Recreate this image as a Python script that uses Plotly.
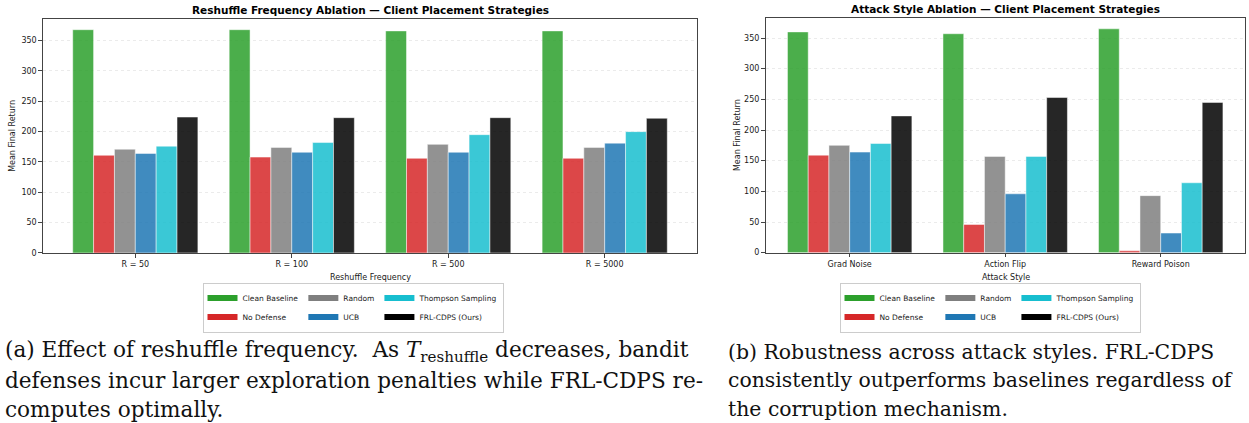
import plotly.graph_objects as go

# ---------------- data ----------------
strategies = ["Clean Baseline", "No Defense", "Random", "UCB",
              "Thompson Sampling", "FRL-CDPS (Ours)"]
legend_groups = ["c1", "c1", "c2", "c2", "c3", "c3"]

reshuffle_labels = ["R = 50", "R = 100", "R = 500", "R = 5000"]
reshuffle_clean = [368, 368, 366, 366]
reshuffle_nodef = [161, 158, 156, 156]
reshuffle_random = [171, 174, 179, 174]
reshuffle_ucb = [164, 166, 166, 181]
reshuffle_ts = [176, 182, 195, 200]
reshuffle_frl = [224, 223, 223, 222]

attack_labels = ["Grad Noise", "Action Flip", "Reward Poison"]
attack_clean = [360, 357, 365]
attack_nodef = [159, 46, 3]
attack_random = [175, 157, 93]
attack_ucb = [164, 96, 32]
attack_ts = [178, 157, 114]
attack_frl = [223, 253, 245]

y_ticks = [0, 50, 100, 150, 200, 250, 300, 350]

# ---------------- style ----------------
base_colors = ["#2ca02c", "#d62728", "#7f7f7f", "#1f77b4", "#17becf", "#000000"]


def rgba(hexc, a=0.85):
    h = hexc.lstrip("#")
    r, g, b = int(h[0:2], 16), int(h[2:4], 16), int(h[4:6], 16)
    return f"rgba({r},{g},{b},{a})"


W, H = 1249, 423
SANS = "DejaVu Sans"
SERIF = "DejaVu Serif"
TXT = "#1a1a1a"


def px_x(v):
    return v / W


def px_y(v):
    return 1 - v / H


fig = go.Figure()

reshuffle_series = [reshuffle_clean, reshuffle_nodef, reshuffle_random,
                    reshuffle_ucb, reshuffle_ts, reshuffle_frl]
attack_series = [attack_clean, attack_nodef, attack_random,
                 attack_ucb, attack_ts, attack_frl]

for name, vals, col in zip(strategies, reshuffle_series, base_colors):
    fig.add_trace(go.Bar(x=reshuffle_labels, y=vals, name=name,
                         marker=dict(color=rgba(col),
                                     line=dict(color="rgba(255,255,255,0.8)", width=0.6)),
                         xaxis="x", yaxis="y", showlegend=False))
for name, vals, col in zip(strategies, attack_series, base_colors):
    fig.add_trace(go.Bar(x=attack_labels, y=vals, name=name,
                         marker=dict(color=rgba(col),
                                     line=dict(color="rgba(255,255,255,0.8)", width=0.6)),
                         xaxis="x2", yaxis="y2", showlegend=False))

# legend entries (full colour patches, like matplotlib handles)
for lg, xa, ya in (("legend", "x", "y"), ("legend2", "x2", "y2")):
    for name, col, grp in zip(strategies, base_colors, legend_groups):
        fig.add_trace(go.Scatter(x=[None], y=[None], mode="lines", name=name,
                                 line=dict(color=col, width=6),
                                 legendgroup=grp + lg, legend=lg,
                                 xaxis=xa, yaxis=ya, hoverinfo="skip"))

axis_common = dict(showline=True, linecolor="#444", linewidth=1.4, mirror=True,
                   ticks="outside", ticklen=3.5, tickwidth=1, tickcolor="#444",
                   tickfont=dict(family=SANS, size=8, color=TXT))

fig.update_layout(
    width=W, height=H,
    margin=dict(l=0, r=0, t=0, b=0, pad=0),
    paper_bgcolor="white", plot_bgcolor="white",
    barmode="group", bargap=0.2, bargroupgap=0,
    font=dict(family=SANS, size=8, color=TXT),
    xaxis=dict(domain=[px_x(43), px_x(697)], anchor="y", range=[-0.59, 3.59],
               showgrid=False, **axis_common),
    yaxis=dict(domain=[px_y(256), px_y(19)], anchor="x", range=[0, 386],
               tickvals=y_ticks, showgrid=True, gridcolor="#ebebeb",
               griddash="dot", gridwidth=0.8, zeroline=False, **axis_common),
    xaxis2=dict(domain=[px_x(765.7), px_x(1244.7)], anchor="y2", range=[-0.54, 2.54],
                showgrid=False, **axis_common),
    yaxis2=dict(domain=[px_y(255.7), px_y(18)], anchor="x2", range=[0, 383],
                tickvals=y_ticks, showgrid=True, gridcolor="#ebebeb",
                griddash="dot", gridwidth=0.8, zeroline=False, **axis_common),
    legend=dict(orientation="h", xref="paper", yref="paper",
                x=px_x(353), xanchor="center", y=px_y(286), yanchor="top",
                bgcolor="white", bordercolor="#cccccc", borderwidth=1,
                font=dict(family=SANS, size=7.5, color=TXT),
                tracegroupgap=0, itemclick=False),
    legend2=dict(orientation="h", xref="paper", yref="paper",
                 x=px_x(990), xanchor="center", y=px_y(286), yanchor="top",
                 bgcolor="white", bordercolor="#cccccc", borderwidth=1,
                 font=dict(family=SANS, size=7.5, color=TXT),
                 tracegroupgap=0, itemclick=False),
)

ann = []
# subplot titles
ann.append(dict(text="<b>Reshuffle Frequency Ablation — Client Placement Strategies</b>",
                x=px_x(370), y=px_y(10), xref="paper", yref="paper",
                xanchor="center", yanchor="middle", showarrow=False,
                font=dict(family=SANS, size=10.5, color="#000")))
ann.append(dict(text="<b>Attack Style Ablation — Client Placement Strategies</b>",
                x=px_x(1005.5), y=px_y(9.5), xref="paper", yref="paper",
                xanchor="center", yanchor="middle", showarrow=False,
                font=dict(family=SANS, size=10.5, color="#000")))
# axis titles
for txt, x, y, ang in (("Mean Final Return", 13, 137.5, -90),
                       ("Mean Final Return", 737.7, 137, -90),
                       ("Reshuffle Frequency", 370, 280.5, 0),
                       ("Attack Style", 1005.5, 280.5, 0)):
    ann.append(dict(text=txt, x=px_x(x), y=px_y(y), xref="paper", yref="paper",
                    xanchor="center", yanchor="middle", textangle=ang,
                    showarrow=False, font=dict(family=SANS, size=8, color=TXT)))

# captions
cap_a = ["(a) Effect of reshuffle frequency.  As <i>T</i><sub>reshuffle</sub> decreases, bandit",
         "defenses incur larger exploration penalties while FRL-CDPS re-",
         "computes optimally."]
cap_b = ["(b) Robustness across attack styles. FRL-CDPS",
         "consistently outperforms baselines regardless of",
         "the corruption mechanism."]
for lines, x0, fs in ((cap_a, 3, 21.6), (cap_b, 726, 20.4)):
    for i, line in enumerate(lines):
        ann.append(dict(text=line, x=px_x(x0), y=px_y(356 + 29 * i),
                        xref="paper", yref="paper", xanchor="left", yanchor="middle",
                        showarrow=False, font=dict(family=SERIF, size=fs, color="#111")))

fig.update_layout(annotations=ann)
fig.write_html("out.html",
               config={"displayModeBar": False},
               post_script="document.body.style.margin='0';document.body.style.overflow='hidden';")
